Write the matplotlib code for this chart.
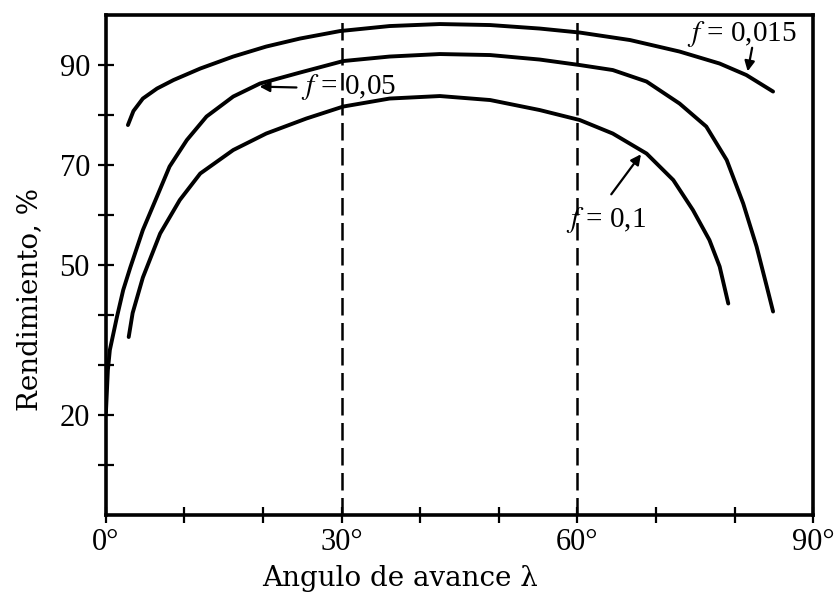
import numpy as np
import matplotlib.pyplot as plt

# curves: lead angle (deg) and efficiency (%)
ang_0015 = [2.8, 3.5, 4.7, 6.5, 8.6, 12.0, 16.2, 20.4, 24.7, 29.8, 36.1, 42.5, 48.9, 55.2, 60.3,
            66.7, 73.0, 78.1, 81.5, 84.9]
eff_0015 = [78.0, 80.8, 83.3, 85.3, 87.0, 89.3, 91.7, 93.7, 95.3, 96.8, 97.8, 98.2, 98.0, 97.3, 96.5,
            95.0, 92.7, 90.3, 88.0, 84.7]

ang_005 = [0.0, 0.25, 0.5, 1.4, 2.2, 3.1, 4.7, 6.5, 8.1, 10.3, 12.8, 16.2, 19.6, 24.7, 30.2,
           36.1, 42.5, 48.9, 55.2, 60.3, 64.5, 68.8, 73.0, 76.4, 79.0, 81.1, 82.8, 84.1, 84.9]
eff_005 = [20.5, 29.0, 33.0, 39.6, 45.0, 49.5, 57.0, 63.7, 69.7, 75.0, 79.7, 83.7, 86.3, 88.5, 90.8,
           91.7, 92.2, 92.0, 91.1, 90.0, 89.0, 86.7, 82.3, 77.7, 71.0, 62.3, 53.7, 45.7, 40.7]

ang_01 = [2.9, 3.4, 4.7, 6.9, 9.4, 12.0, 16.2, 20.4, 25.5, 30.2, 36.1, 42.5, 48.9, 55.2, 60.3,
          64.5, 68.8, 72.2, 74.7, 76.8, 78.1, 79.2]
eff_01 = [35.6, 40.4, 47.5, 56.3, 63.0, 68.3, 73.0, 76.3, 79.3, 81.7, 83.3, 83.8, 83.0, 81.0, 79.0,
          76.3, 72.3, 67.0, 61.0, 55.0, 49.7, 42.3]

x_ticks = [0, 10, 20, 30, 40, 50, 60, 70, 80, 90]
x_labels = ['0°', '', '', '30°', '', '', '60°', '', '', '90°']
y_ticks = [10, 20, 30, 40, 50, 60, 70, 80, 90]
y_labels = ['', '20', '', '', '50', '', '70', '', '90']

plt.rcParams['font.family'] = ['Liberation Serif', 'DejaVu Serif']
plt.rcParams['mathtext.fontset'] = 'stix'

fig = plt.figure(figsize=(8.34, 6.02), dpi=100)
ax = fig.add_axes([0.127, 0.1445, 0.848, 0.8305])

for a, e in [(ang_0015, eff_0015), (ang_005, eff_005), (ang_01, eff_01)]:
    ax.plot(a, e, color='black', lw=2.8, solid_capstyle='round', solid_joinstyle='round')

for xv in [30, 60]:
    ax.axvline(xv, color='black', lw=1.8, ls=(0, (7, 3)))

ax.set_xlim(0, 90)
ax.set_ylim(0, 100)
ax.set_xticks(x_ticks)
ax.set_xticklabels(x_labels)
ax.set_yticks(y_ticks)
ax.set_yticklabels(y_labels)
ax.tick_params(direction='inout', length=11, width=1.6, labelsize=22)
ax.tick_params(axis='y', pad=6)
ax.tick_params(axis='x', pad=4)
for s in ax.spines.values():
    s.set_linewidth(2.6)

fig.text(400 / 834, 1 - 578 / 602, 'Angulo de avance λ', fontsize=20,
         family=['DejaVu Serif'], ha='center', va='center')
fig.text(30 / 834, 1 - 300 / 602, 'Rendimiento, %', fontsize=20,
         family=['DejaVu Serif'], ha='center', va='center', rotation=90)

# curve labels with arrows
arrow = dict(arrowstyle='-|>', color='black', lw=1.6, mutation_scale=15)
ax.annotate('', xy=(81.6, 88.2), xytext=(82.3, 94.0), arrowprops=arrow)
ax.text(74.0, 96.3, '$f$ = 0,015', fontsize=21, va='center', ha='left')

ax.annotate('', xy=(19.2, 85.7), xytext=(24.6, 85.5), arrowprops=arrow)
ax.text(24.8, 85.6, '$f$ = 0,05', fontsize=21, va='center', ha='left')

ax.annotate('', xy=(68.3, 72.6), xytext=(64.1, 63.7), arrowprops=arrow)
ax.text(58.6, 59.0, '$f$ = 0,1', fontsize=21, va='center', ha='left')

fig.savefig('out.png', dpi=100)
